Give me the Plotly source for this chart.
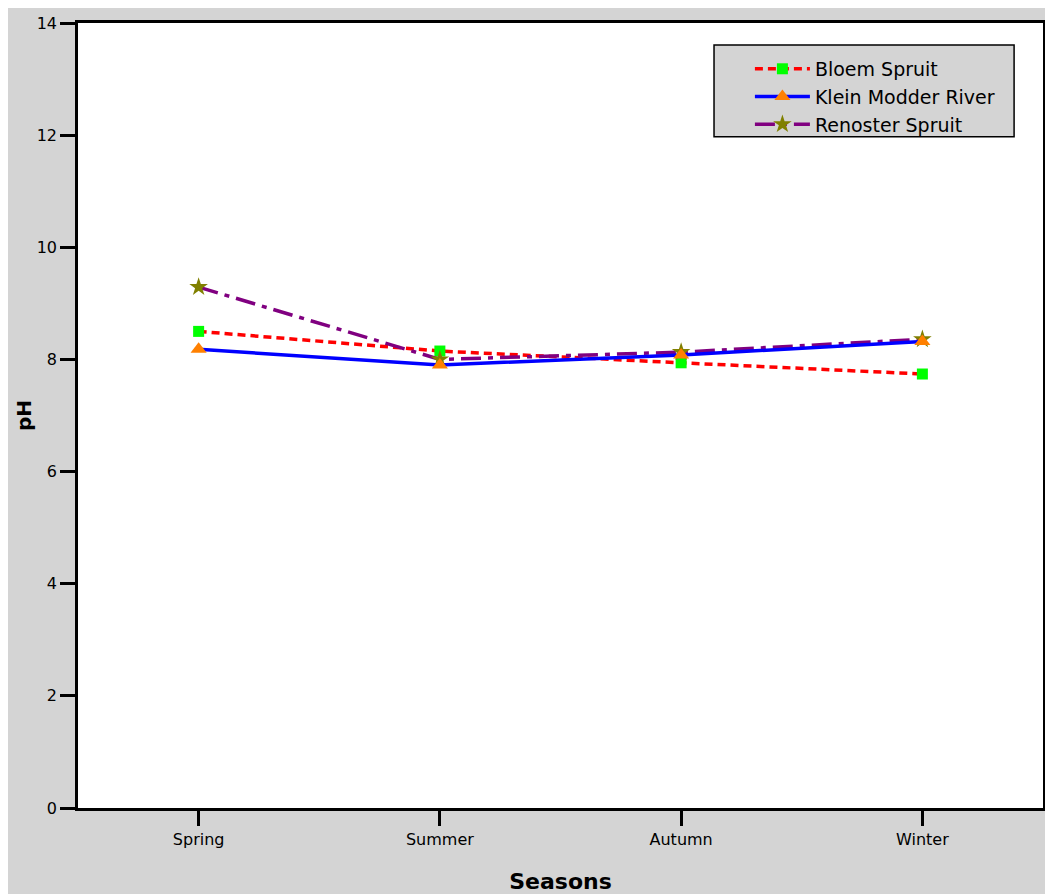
import plotly.graph_objects as go

seasons = ["Spring", "Summer", "Autumn", "Winter"]
bloem_spruit = [8.50, 8.15, 7.94, 7.74]
klein_modder = [8.18, 7.90, 8.08, 8.32]
renoster_spruit = [9.29, 8.00, 8.13, 8.36]
y_ticks = [0, 2, 4, 6, 8, 10, 12, 14]

GRAY = "#d4d4d4"
FONT = "DejaVu Sans, Liberation Sans, Arial, sans-serif"

fig = go.Figure()
fig.add_trace(go.Scatter(
    x=seasons, y=bloem_spruit, name="Bloem Spruit", mode="lines+markers",
    line=dict(color="#ff0000", width=3.5, dash="8px,5px"),
    marker=dict(symbol="square", color="#00ff00", size=11),
    legendrank=1))
fig.add_trace(go.Scatter(
    x=seasons, y=renoster_spruit, name="Renoster Spruit", mode="lines+markers",
    line=dict(color="#800080", width=3.5, dash="20px,7px,5px,7px"),
    marker=dict(symbol="star", color="#808000", size=14),
    legendrank=3))
fig.add_trace(go.Scatter(
    x=seasons, y=klein_modder, name="Klein Modder River", mode="lines+markers",
    line=dict(color="#0000ff", width=3.5),
    marker=dict(symbol="triangle-up", color="#ff8000", size=14),
    legendrank=2))

# page coordinates of the plot area (figure is offset by the 8px body margin)
OFF = 8
L, T, R, B = 78, 23, 1046, 810
W, H = 1042, 886
pw, ph = R - L, B - T


def px(p):
    return (p - L) / pw


def py(q):
    return (B - q) / ph


shapes = [
    dict(type="rect", xref="paper", yref="paper", x0=px(716), x1=px(1017), y0=py(137), y1=py(45),
         fillcolor=GRAY, line=dict(color="black", width=1.5), layer="above"),
]

fig.update_layout(
    width=W, height=H,
    margin=dict(l=L - OFF, r=W - (R - OFF), t=T - OFF, b=H - (B - OFF), pad=0),
    paper_bgcolor=GRAY, plot_bgcolor="white",
    font=dict(family=FONT, color="black", size=16),
    shapes=shapes,
    showlegend=True,
    legend=dict(x=px(752), y=py(50), xanchor="left", yanchor="top",
                bgcolor="rgba(0,0,0,0)", borderwidth=0,
                font=dict(size=19, family=FONT), itemwidth=55,
                tracegroupgap=0),
    xaxis=dict(range=[-0.5, 3.5], showline=True, linecolor="black", linewidth=2.5,
               mirror=True, ticks="outside", ticklen=15, tickwidth=2.5, tickcolor="black",
               showgrid=False, zeroline=False, tickfont=dict(size=16),
               title=dict(text="<b>Seasons</b>", font=dict(size=22), standoff=26)),
    yaxis=dict(range=[0, 14], tickvals=y_ticks, showline=True, linecolor="black", linewidth=2.5,
               mirror=True, ticks="outside", ticklen=15, tickwidth=2.5, tickcolor="black",
               showgrid=False, zeroline=False, tickfont=dict(size=16),
               title=dict(text="<b>pH</b>", font=dict(size=20), standoff=0)),
)

fig.write_html("out.html")
